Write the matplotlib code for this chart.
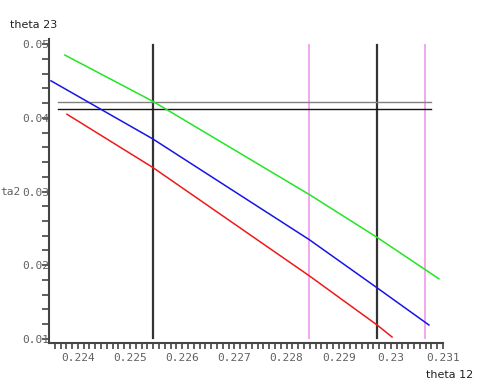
import matplotlib
matplotlib.use('Agg')
import matplotlib.pyplot as plt
from matplotlib.ticker import MultipleLocator, FixedLocator

# curves (theta 12, theta 23)
green_x = [0.223751, 0.225434, 0.228436, 0.229736, 0.230922]
green_y = [0.04850, 0.04224, 0.02959, 0.02378, 0.01816]
blue_x = [0.223484, 0.225434, 0.228436, 0.229736, 0.230730]
blue_y = [0.04501, 0.03714, 0.02347, 0.01694, 0.01190]
red_x = [0.223790, 0.225434, 0.228436, 0.229736, 0.230023]
red_y = [0.04048, 0.03327, 0.01857, 0.01190, 0.01027]

# reference lines
black_vx = [0.225434, 0.229736]
pink_vx = [0.228436, 0.230654]
vline_range = [0.0101, 0.0499]
hline_y = [0.04215, 0.04112]
hline_colors = ['#808080', '#151515']
hline_range = [0.22362, 0.23077]

xticks = [0.224, 0.225, 0.226, 0.227, 0.228, 0.229, 0.230, 0.231]
xtick_labels = ['0.224', '0.225', '0.226', '0.227', '0.228', '0.229', '0.23', '0.231']
yticks = [0.01, 0.02, 0.03, 0.04, 0.05]
ytick_labels = ['0.01', '0.02', '0.03', '0.04', '0.05']

fig = plt.figure(figsize=(4.91, 3.82), dpi=100)
ax = fig.add_axes([49 / 491, 39 / 382, 394 / 491, 304 / 382])

for x in black_vx:
    ax.plot([x, x], vline_range, color='#333333', lw=1.6, zorder=2)
for x in pink_vx:
    ax.plot([x, x], vline_range, color='#f2a8ee', lw=1.4, zorder=2)
for y, c in zip(hline_y, hline_colors):
    ax.plot(hline_range, [y, y], color=c, lw=1.0, zorder=2)

ax.plot(green_x, green_y, color='#22e622', lw=1.1, zorder=3)
ax.plot(blue_x, blue_y, color='#1515e6', lw=1.1, zorder=3)
ax.plot(red_x, red_y, color='#ee1a1a', lw=1.1, zorder=3)

ax.set_xlim(0.223446, 0.231)
ax.set_ylim(0.009456, 0.05068)

for s in ['top', 'right']:
    ax.spines[s].set_visible(False)
for s in ['left', 'bottom']:
    ax.spines[s].set_color('#444444')
    ax.spines[s].set_linewidth(1.5)

tick_font = dict(family='DejaVu Sans Mono', size=8, color='#606060')
ax.xaxis.set_major_locator(FixedLocator(xticks))
ax.set_xticklabels(xtick_labels, **tick_font)
ax.xaxis.set_minor_locator(MultipleLocator(0.001 / 9))
ax.yaxis.set_major_locator(FixedLocator(yticks))
ax.set_yticklabels(ytick_labels, **tick_font)
ax.yaxis.set_minor_locator(MultipleLocator(0.002))

ax.tick_params(axis='x', which='both', direction='out', length=4, width=1.2,
               color='#444444', pad=3)
ax.tick_params(axis='y', which='both', direction='out', length=5, width=1.2,
               color='#444444', pad=-5)

fig.text(10 / 491, 1 - 25 / 382, 'theta 23', fontsize=8, color='#222222',
         ha='left', va='center')
fig.text(426 / 491, 1 - 375 / 382, 'theta 12', fontsize=8, color='#222222',
         ha='left', va='center')
fig.text(0, 1 - 192 / 382, 'ta2', ha='left', va='center', **tick_font)

fig.savefig('out.png', dpi=100)
